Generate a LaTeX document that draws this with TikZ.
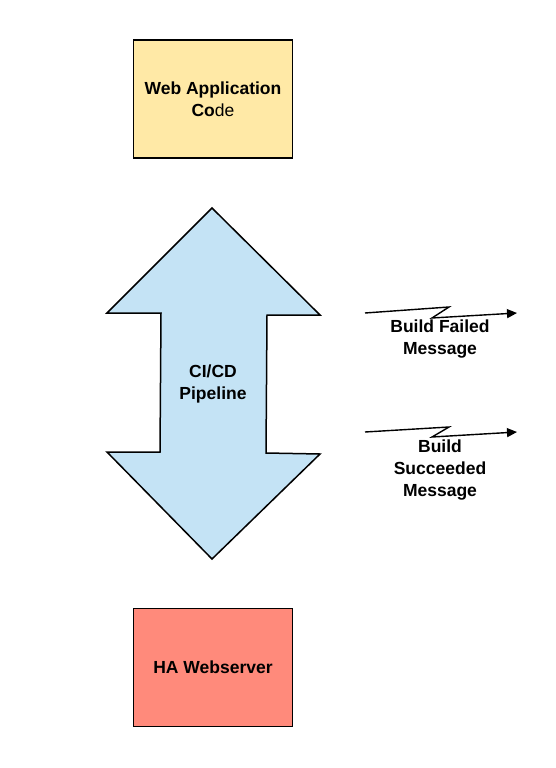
\documentclass[tikz,border=0pt]{standalone}
\usepackage{fontspec}
\setmainfont{Liberation Sans}
\usetikzlibrary{arrows.meta}
\definecolor{codeyellow}{HTML}{FFE9A6}
\definecolor{pipeblue}{HTML}{C4E3F5}
\definecolor{serverred}{HTML}{FF8A7B}
\begin{document}
\begin{tikzpicture}[x=1pt,y=-1pt,
  box/.style={draw, line width=1.8pt, minimum width=159pt, minimum height=118pt,
    align=center, font=\bfseries\fontsize{17.5}{22}\selectfont},
  lbl/.style={align=center, font=\bfseries\fontsize{17.5}{22}\selectfont},
  bolt/.style={line width=1.4pt, -{Triangle[length=10pt,width=9pt]}}]
\useasboundingbox (0,0) rectangle (555,768);
\node (code) at (213,99) [box, fill=codeyellow] {Web Application\\Co\textmd{de}};
\node (server) at (213,667.5) [box, fill=serverred] {HA Webserver};
% the double arrow
\draw[fill=pipeblue, line width=1.5pt, line join=miter] (212,208) -- (320,315) -- (267,315)
  -- (266,453) -- (320,454) -- (212,559) -- (107,452) -- (160,452)
  -- (161,313) -- (107,313) -- cycle;
\node (pipe) at (213,384) [lbl] {CI/CD\\Pipeline};
\coordinate (fs) at (365,313); \coordinate (fe) at (517,313);
\coordinate (ss) at (365,432); \coordinate (se) at (517,432);
\draw[bolt] (fs) -- (449,307) -- (432,318) -- (fe);
\draw[bolt] (ss) -- (449,427) -- (432,437) -- (se);
\node (failed) at (440,339) [lbl] {Build Failed\\Message};
\node (succeeded) at (440,470) [lbl] {Build\\Succeeded\\Message};
\end{tikzpicture}
\end{document}
